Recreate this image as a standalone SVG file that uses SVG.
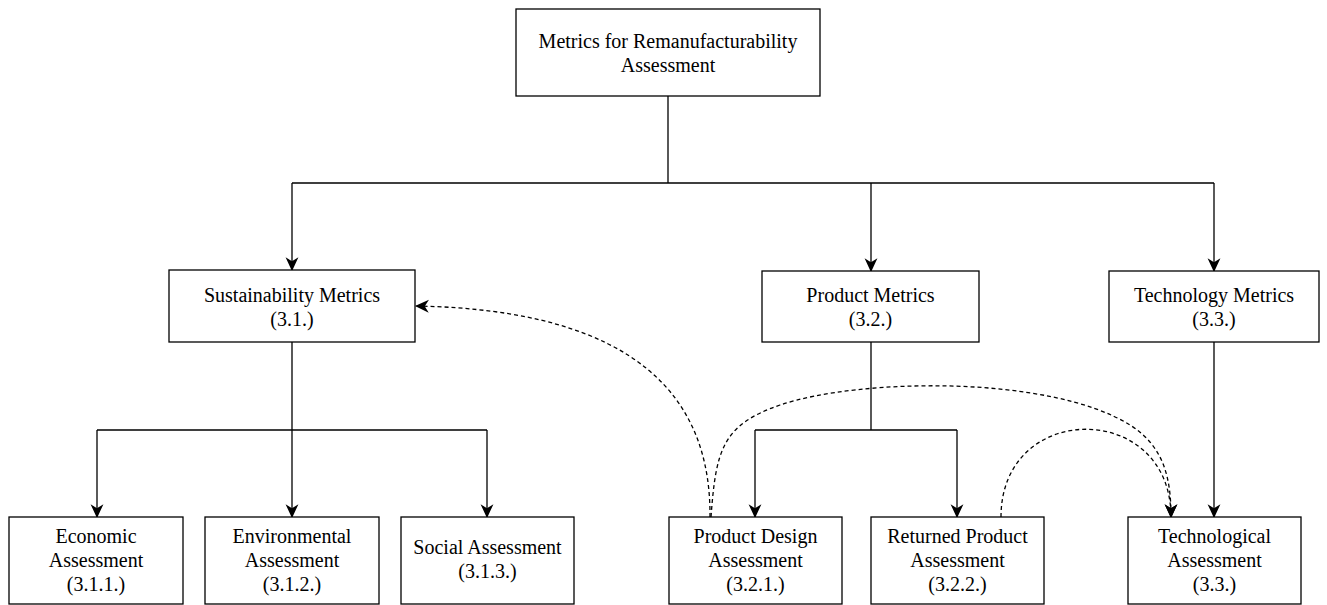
<svg xmlns="http://www.w3.org/2000/svg" width="1327" height="605" viewBox="0 0 1327 605">
<style>
.box{fill:#fff;stroke:#000;stroke-width:1.3}
.t{font-family:"Liberation Serif","Times New Roman",serif;font-size:20px;fill:#000;text-anchor:middle}
.ln{fill:none;stroke:#000;stroke-width:1.3}
.dash{fill:none;stroke:#000;stroke-width:1.3;stroke-dasharray:4 3}
</style>
<defs>
<marker id="arr" markerUnits="userSpaceOnUse" markerWidth="14" markerHeight="14" viewBox="0 0 12 12" refX="11" refY="6" orient="auto">
<path d="M0,0.5 L12,6 L0,11.5 L3.5,6 z" fill="#000"/>
</marker>
</defs>
<rect width="1327" height="605" fill="#fff"/>
<g id="connectors">
<path class="ln" d="M668,96 V183 M292,183 H1214"/>
<path class="ln" d="M292,183 V270" marker-end="url(#arr)"/>
<path class="ln" d="M871,183 V271" marker-end="url(#arr)"/>
<path class="ln" d="M1214,183 V271" marker-end="url(#arr)"/>
<path class="ln" d="M292,342 V430 M97,430 H487"/>
<path class="ln" d="M97,430 V517" marker-end="url(#arr)"/>
<path class="ln" d="M292,430 V517" marker-end="url(#arr)"/>
<path class="ln" d="M487,430 V517" marker-end="url(#arr)"/>
<path class="ln" d="M871,342 V430 M755,430 H957"/>
<path class="ln" d="M755,430 V517" marker-end="url(#arr)"/>
<path class="ln" d="M957,430 V517" marker-end="url(#arr)"/>
<path class="ln" d="M1214,342 V517" marker-end="url(#arr)"/>
<path class="dash" d="M710,517 C711,400 640,310 416,306" marker-end="url(#arr)"/>
<path class="dash" d="M711,517 C716,450 722,425 780,405 C860,378 1050,375 1130,425 C1165,447 1171,480 1171,517" marker-end="url(#arr)"/>
<path class="dash" d="M1001,517 C1001,400 1171,400 1171,517" marker-end="url(#arr)"/>
</g>
<g id="n-root"><rect class="box" x="516" y="9" width="304" height="87"/>
<text class="t" x="668" y="48">Metrics for Remanufacturability</text><text class="t" x="668" y="72">Assessment</text></g>
<g id="n-sustain"><rect class="box" x="169" y="270" width="246" height="72"/>
<text class="t" x="292" y="302">Sustainability Metrics</text><text class="t" x="292" y="326">(3.1.)</text></g>
<g id="n-product"><rect class="box" x="762" y="271" width="217" height="71"/>
<text class="t" x="870.5" y="302">Product Metrics</text><text class="t" x="870.5" y="326">(3.2.)</text></g>
<g id="n-tech"><rect class="box" x="1109" y="271" width="210" height="71"/>
<text class="t" x="1214" y="302">Technology Metrics</text><text class="t" x="1214" y="326">(3.3.)</text></g>
<g id="n-econ"><rect class="box" x="9" y="517" width="174" height="87"/>
<text class="t" x="96" y="543">Economic</text><text class="t" x="96" y="567">Assessment</text><text class="t" x="96" y="591">(3.1.1.)</text></g>
<g id="n-env"><rect class="box" x="205" y="517" width="174" height="87"/>
<text class="t" x="292" y="543">Environmental</text><text class="t" x="292" y="567">Assessment</text><text class="t" x="292" y="591">(3.1.2.)</text></g>
<g id="n-social"><rect class="box" x="401" y="517" width="173" height="87"/>
<text class="t" x="487.5" y="554">Social Assessment</text><text class="t" x="487.5" y="578">(3.1.3.)</text></g>
<g id="n-pdesign"><rect class="box" x="669" y="517" width="173" height="87"/>
<text class="t" x="755.5" y="543">Product Design</text><text class="t" x="755.5" y="567">Assessment</text><text class="t" x="755.5" y="591">(3.2.1.)</text></g>
<g id="n-returned"><rect class="box" x="871" y="517" width="173" height="87"/>
<text class="t" x="957.5" y="543">Returned Product</text><text class="t" x="957.5" y="567">Assessment</text><text class="t" x="957.5" y="591">(3.2.2.)</text></g>
<g id="n-techassess"><rect class="box" x="1128" y="517" width="173" height="87"/>
<text class="t" x="1214.5" y="543">Technological</text><text class="t" x="1214.5" y="567">Assessment</text><text class="t" x="1214.5" y="591">(3.3.)</text></g>
</svg>
